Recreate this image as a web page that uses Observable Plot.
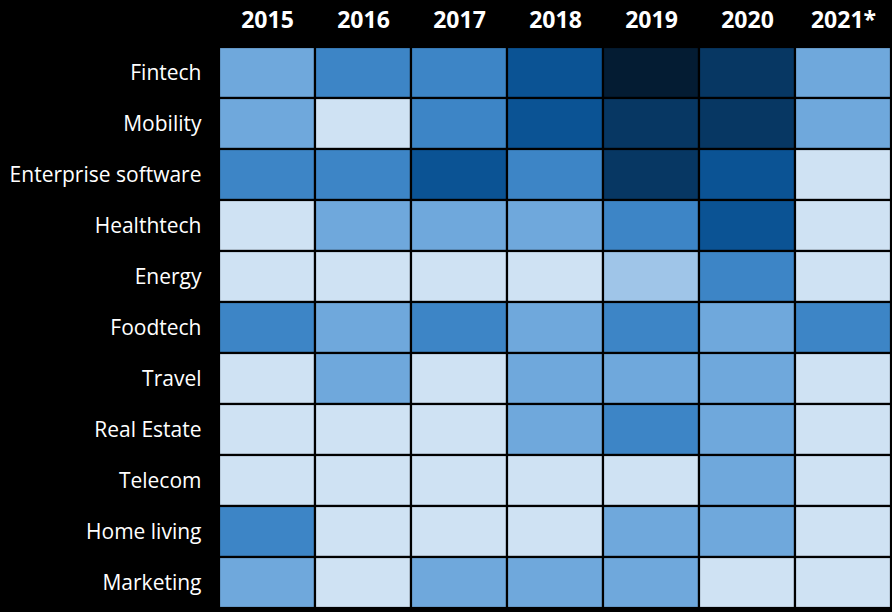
<!DOCTYPE html>
<html>
<head>
<meta charset="utf-8">
<script src="https://cdn.jsdelivr.net/npm/d3@7"></script>
<script src="https://cdn.jsdelivr.net/npm/@observablehq/plot@0.6"></script>
<style>
  html, body { margin: 0; padding: 0; background: #000; }
  #chart svg { display: block; }
</style>
</head>
<body>
<div id="chart"></div>
<script>
const years = ["2015", "2016", "2017", "2018", "2019", "2020", "2021*"];
const sectors = ["Fintech", "Mobility", "Enterprise software", "Healthtech", "Energy", "Foodtech", "Travel", "Real Estate", "Telecom", "Home living", "Marketing"];
// intensity level per sector (row) and year (column), 0 = lowest, 6 = highest
const fintech    = [2, 3, 3, 4, 6, 5, 2];
const mobility   = [2, 0, 3, 4, 5, 5, 2];
const enterprise = [3, 3, 4, 3, 5, 4, 0];
const healthtech = [0, 2, 2, 2, 3, 4, 0];
const energy     = [0, 0, 0, 0, 1, 3, 0];
const foodtech   = [3, 2, 3, 2, 3, 2, 3];
const travel     = [0, 2, 0, 2, 2, 2, 0];
const realEstate = [0, 0, 0, 2, 3, 2, 0];
const telecom    = [0, 0, 0, 0, 0, 2, 0];
const homeLiving = [3, 0, 0, 0, 2, 2, 0];
const marketing  = [2, 0, 2, 2, 2, 0, 0];
const levels = [0, 1, 2, 3, 4, 5, 6];
const palette = ["#cfe2f3", "#9fc5e8", "#6fa8dc", "#3d85c6", "#0b5394", "#073763", "#041c33"];

const rows = [fintech, mobility, enterprise, healthtech, energy, foodtech, travel, realEstate, telecom, homeLiving, marketing];
const data = [];
sectors.forEach((s, i) => years.forEach((y, j) => data.push({sector: s, year: y, level: rows[i][j]})));

const chart = Plot.plot({
  width: 892,
  height: 612,
  marginLeft: 217,
  marginTop: 43,
  marginRight: 0,
  marginBottom: 0,
  style: {background: "#000", color: "#fff", fontFamily: "'Open Sans', sans-serif", fontSize: "20px"},
  x: {domain: years, padding: 0, axis: null},
  y: {domain: sectors, padding: 0, axis: null},
  color: {type: "ordinal", domain: levels, range: palette},
  marks: [
    Plot.cell(data, {x: "year", y: "sector", fill: "level", stroke: "#000", strokeWidth: 2.2}),
    Plot.axisX({anchor: "top", tickSize: 0, tickPadding: 16, fontSize: 23, fontWeight: "bold", label: null}),
    Plot.axisY({anchor: "left", tickSize: 0, tickPadding: 16, fontSize: 21, label: null})
  ]
});
document.getElementById("chart").appendChild(chart);
</script>
</body>
</html>
